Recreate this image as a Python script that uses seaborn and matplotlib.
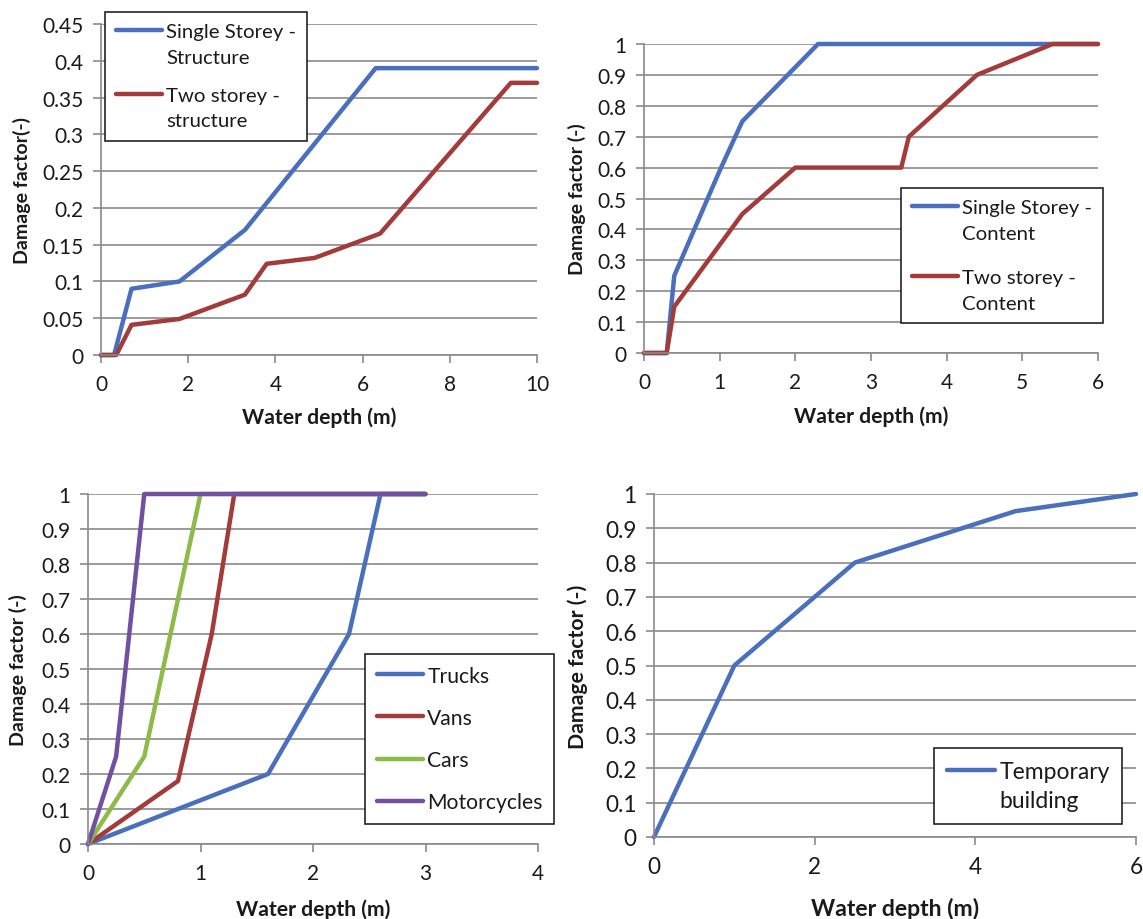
import numpy as np
import pandas as pd
import matplotlib
matplotlib.use("Agg")
import matplotlib.pyplot as plt
import seaborn as sns
from matplotlib.ticker import FuncFormatter, MultipleLocator
from matplotlib.legend_handler import HandlerLine2D
from matplotlib.lines import Line2D

# ---------------- data ----------------
# Panel 1: structure damage
p1_single_x = [0, 0.3, 0.7, 1.8, 3.3, 6.3, 10]
p1_single_y = [0, 0, 0.09, 0.10, 0.17, 0.39, 0.39]
p1_two_x = [0, 0.35, 0.7, 1.8, 3.3, 3.8, 4.9, 6.4, 9.4, 10]
p1_two_y = [0, 0, 0.041, 0.049, 0.082, 0.124, 0.132, 0.165, 0.37, 0.37]
p1_labels = ["Single Storey -\nStructure", "Two storey -\nstructure"]

# Panel 2: content damage
p2_single_x = [0, 0.3, 0.4, 1.0, 1.3, 2.3, 6]
p2_single_y = [0, 0, 0.25, 0.59, 0.75, 1.0, 1.0]
p2_two_x = [0, 0.3, 0.4, 1.3, 2.0, 3.4, 3.5, 4.4, 5.4, 6]
p2_two_y = [0, 0, 0.15, 0.45, 0.60, 0.60, 0.70, 0.90, 1.0, 1.0]
p2_labels = ["Single Storey -\nContent", "Two storey -\nContent"]

# Panel 3: vehicles
trucks_x = [0, 1.6, 2.32, 2.6, 3.0]
trucks_y = [0, 0.2, 0.6, 1.0, 1.0]
vans_x = [0, 0.8, 1.1, 1.3, 3.0]
vans_y = [0, 0.18, 0.6, 1.0, 1.0]
cars_x = [0, 0.5, 0.8, 1.0, 3.0]
cars_y = [0, 0.25, 0.7, 1.0, 1.0]
moto_x = [0, 0.25, 0.4, 0.5, 3.0]
moto_y = [0, 0.25, 0.7, 1.0, 1.0]
p3_labels = ["Trucks", "Vans", "Cars", "Motorcycles"]

# Panel 4: temporary building
temp_x = [0, 1.0, 2.5, 4.5, 6.0]
temp_y = [0, 0.5, 0.8, 0.95, 1.0]
p4_labels = ["Temporary\nbuilding"]

BLUE = "#4A6FBD"
RED = "#A23B39"
GREEN = "#8DBA48"
PURPLE = "#7150A0"
GRAY = "#8A8A8A"
TXT = "#1a1a1a"
W, H = 1143, 920


def frame(series):
    rows = []
    for name, xs, ys in series:
        for i, (x, y) in enumerate(zip(xs, ys)):
            rows.append({"series": name, "x": x, "y": y, "order": i})
    return pd.DataFrame(rows)


class TopHandler(HandlerLine2D):
    """Legend line aligned with the first text line (Excel style)."""

    def __init__(self, shift=0.0, **kw):
        super().__init__(**kw)
        self.shift = shift

    def create_artists(self, legend, orig_handle, xdescent, ydescent,
                       width, height, fontsize, trans):
        arts = super().create_artists(legend, orig_handle, xdescent,
                                      ydescent, width, height, fontsize,
                                      trans)
        for a in arts:
            if isinstance(a, Line2D):
                a.set_ydata(np.asarray(a.get_ydata(), dtype=float)
                            + self.shift)
        return arts


sns.set_style("white")
plt.rcParams["font.family"] = ["Lato", "DejaVu Sans"]

fig = plt.figure(figsize=(W / 100, H / 100), dpi=100)


def box(l, r, t, b):
    return [l / W, 1 - b / H, (r - l) / W, (b - t) / H]


ax1 = fig.add_axes(box(101, 537, 25, 356))
ax2 = fig.add_axes(box(644, 1098, 45, 354))
ax3 = fig.add_axes(box(88, 538, 495, 845))
ax4 = fig.add_axes(box(654, 1136, 495, 838))

LW = 3.2

panels = [
    # ax, data, palette, xlim, xstep, ylim, ystep, ylabel, tick fs, xl fs, yl fs,
    # ylabel x (px), xlabel y (px)
    (ax1, frame([(p1_labels[0], p1_single_x, p1_single_y),
                 (p1_labels[1], p1_two_x, p1_two_y)]),
     [BLUE, RED], (0, 10), 2, (0, 0.45), 0.05, "Damage factor(-)",
     15, 15.2, 14, 22, 418),
    (ax2, frame([(p2_labels[0], p2_single_x, p2_single_y),
                 (p2_labels[1], p2_two_x, p2_two_y)]),
     [BLUE, RED], (0, 6), 1, (0, 1), 0.1, "Damage factor (-)",
     15, 15.2, 14, 577, 417),
    (ax3, frame([(p3_labels[0], trucks_x, trucks_y),
                 (p3_labels[1], vans_x, vans_y),
                 (p3_labels[2], cars_x, cars_y),
                 (p3_labels[3], moto_x, moto_y)]),
     [BLUE, RED, GREEN, PURPLE], (0, 4), 1, (0, 1), 0.1, "Damage factor (-)",
     15, 15.2, 14, 18, 910),
    (ax4, frame([(p4_labels[0], temp_x, temp_y)]),
     [BLUE], (0, 6), 2, (0, 1), 0.1, "Damage factor (-)",
     16.3, 16.6, 15.3, 578, 909),
]

fmt = FuncFormatter(lambda v, p: f"{v:.2f}".rstrip("0").rstrip(".")
                    if abs(v) > 1e-9 else "0")

for (ax, df, pal, xl, xs, yl, ys, ylab, tfs, xfs, yfs,
     ylx, xly) in panels:
    sns.lineplot(data=df, x="x", y="y", hue="series", palette=pal,
                 sort=False, estimator=None, linewidth=LW, ax=ax,
                 legend=True, clip_on=False)
    ax.set_xlim(*xl)
    ax.set_ylim(*yl)
    ax.xaxis.set_major_locator(MultipleLocator(xs))
    ax.yaxis.set_major_locator(MultipleLocator(ys))
    ax.yaxis.set_major_formatter(fmt)
    ax.set_axisbelow(True)
    ax.yaxis.grid(True, color=GRAY, linewidth=1.2)
    ax.xaxis.grid(False)
    for s in ["top", "right"]:
        ax.spines[s].set_visible(False)
    for s in ["left", "bottom"]:
        ax.spines[s].set_color(GRAY)
        ax.spines[s].set_linewidth(1.2)
    ax.tick_params(axis="both", direction="out", length=5.5, width=1.2,
                   color=GRAY, labelsize=tfs, labelcolor=TXT,
                   bottom=True, left=True)
    ax.tick_params(axis="y", pad=7)
    ax.tick_params(axis="x", pad=8)
    pos = ax.get_position()
    ax.set_xlabel("Water depth (m)", fontsize=xfs, fontweight="bold",
                  color=TXT, va="center")
    ax.xaxis.set_label_coords((pos.x0 + pos.x1) / 2, 1 - xly / H,
                              transform=fig.transFigure)
    ax.set_ylabel(ylab, fontsize=yfs, fontweight="bold", color=TXT,
                  va="center")
    ax.yaxis.set_label_coords(ylx / W, (pos.y0 + pos.y1) / 2,
                              transform=fig.transFigure)

# legends: (ax, left px, top px, fontsize, linespacing, labelspacing,
#           handlelength, shift pts, borderpad)
leg_specs = [
    (ax1, 105, 13, 14.7, 1.6, 1.05, 2.25, 10.5, 0.55),
    (ax2, 901, 189, 14.7, 1.6, 1.35, 2.25, 10.5, 0.55),
    (ax3, 365, 655, 15.2, 1.2, 1.05, 2.2, 0.0, 0.55),
    (ax4, 934, 749, 16.5, 1.52, 0.5, 2.1, 11.6, 0.55),
]

for ax, lx, ty, fs, lsp, lbs, hl, shift, bp in leg_specs:
    sns.move_legend(ax, loc="upper left",
                    bbox_to_anchor=(lx / W, 1 - ty / H),
                    bbox_transform=fig.transFigure,
                    frameon=True, fancybox=False, framealpha=1,
                    edgecolor="#222222", fontsize=fs, handlelength=hl,
                    handletextpad=0.2, borderpad=bp, borderaxespad=0,
                    labelspacing=lbs, title=None,
                    handler_map={Line2D: TopHandler(shift=shift)})
    leg = ax.get_legend()
    leg.get_frame().set_linewidth(1.2)
    for t in leg.get_texts():
        t.set_linespacing(lsp)
        t.set_color(TXT)
    for h in leg.get_lines():
        h.set_linewidth(LW)

fig.savefig("out.png", dpi=100, facecolor="white")
